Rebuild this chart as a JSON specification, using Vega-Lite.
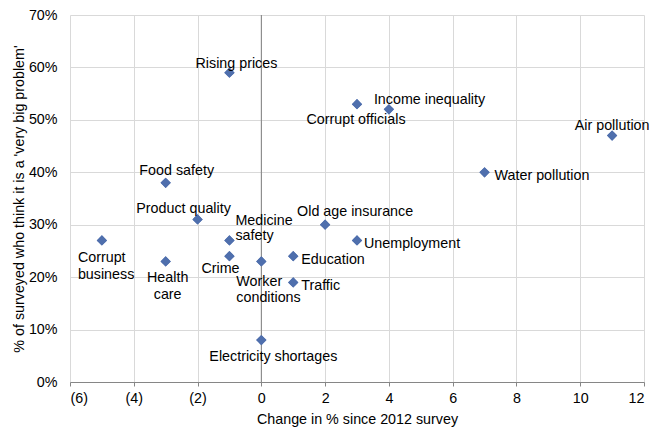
{
  "$schema": "https://vega.github.io/schema/vega-lite/v6.json",
  "width": 574,
  "height": 367,
  "autosize": {"type": "none"},
  "padding": {"left": 70, "top": 15, "right": 6, "bottom": 45},
  "config": {
    "view": {"stroke": null},
    "font": "Liberation Sans",
    "text": {"font": "Liberation Sans", "fontSize": 14.3, "color": "#000000", "baseline": "alphabetic"}
  },
  "data": {
    "values": [
      {"name": "Rising prices", "change": -1, "pct": 59},
      {"name": "Income inequality", "change": 4, "pct": 52},
      {"name": "Corrupt officials", "change": 3, "pct": 53},
      {"name": "Air pollution", "change": 11, "pct": 47},
      {"name": "Water pollution", "change": 7, "pct": 40},
      {"name": "Food safety", "change": -3, "pct": 38},
      {"name": "Product quality", "change": -2, "pct": 31},
      {"name": "Medicine safety", "change": -1, "pct": 27},
      {"name": "Corrupt business", "change": -5, "pct": 27},
      {"name": "Health care", "change": -3, "pct": 23},
      {"name": "Crime", "change": -1, "pct": 24},
      {"name": "Worker conditions", "change": 0, "pct": 23},
      {"name": "Electricity shortages", "change": 0, "pct": 8},
      {"name": "Education", "change": 1, "pct": 24},
      {"name": "Traffic", "change": 1, "pct": 19},
      {"name": "Old age insurance", "change": 2, "pct": 30},
      {"name": "Unemployment", "change": 3, "pct": 27}
    ]
  },
  "layer": [
    {
      "mark": {"type": "point", "shape": "diamond", "filled": true, "size": 105, "color": "#4F6FAD", "opacity": 1},
      "encoding": {
        "x": {
          "field": "change", "type": "quantitative",
          "scale": {"domain": [-6, 12], "nice": false, "zero": false},
          "axis": {
            "values": [-6, -4, -2, 0, 2, 4, 6, 8, 10, 12],
            "labelExpr": "datum.value < 0 ? '(' + abs(datum.value) + ')' : '' + datum.value",
            "title": "Change in % since 2012 survey",
            "grid": true, "gridColor": "#D9D9D9", "gridWidth": 1,
            "domainColor": "#868686", "tickColor": "#868686", "tickSize": 4,
            "labelFontSize": 14.3, "labelColor": "#000000", "labelPadding": 5,
            "labelFont": "Liberation Sans",
            "titleFont": "Liberation Sans", "titleFontSize": 14.3, "titleFontWeight": "normal", "titleColor": "#000000", "titlePadding": 7
          }
        },
        "y": {
          "field": "pct", "type": "quantitative",
          "scale": {"domain": [0, 70], "nice": false},
          "axis": {
            "values": [0, 10, 20, 30, 40, 50, 60, 70],
            "labelExpr": "datum.value + '%'",
            "title": "% of surveyed who think it is a 'very big problem'",
            "grid": true, "gridColor": "#D9D9D9", "gridWidth": 1,
            "domain": false, "ticks": false,
            "labelFontSize": 14.3, "labelColor": "#000000", "labelPadding": 13,
            "labelFont": "Liberation Sans",
            "titleFont": "Liberation Sans", "titleFontSize": 14.3, "titleFontWeight": "normal", "titleColor": "#000000", "titlePadding": 2
          }
        }
      }
    },
    {
      "data": {"values": [{}]},
      "mark": {"type": "rule", "color": "#7F7F7F", "strokeWidth": 1},
      "encoding": {"x": {"datum": 0, "type": "quantitative"}}
    },
    {
      "mark": {"type": "point", "shape": "diamond", "filled": true, "size": 105, "color": "#4F6FAD", "opacity": 1},
      "encoding": {
        "x": {"field": "change", "type": "quantitative"},
        "y": {"field": "pct", "type": "quantitative"}
      }
    },
    {"transform": [{"filter": "datum.name === 'Rising prices'"}], "mark": {"type": "text", "align": "center", "dx": 7, "dy": -5},
     "encoding": {"x": {"field": "change", "type": "quantitative"}, "y": {"field": "pct", "type": "quantitative"}, "text": {"field": "name"}}},
    {"transform": [{"filter": "datum.name === 'Income inequality'"}], "mark": {"type": "text", "align": "left", "dx": -15, "dy": -5},
     "encoding": {"x": {"field": "change", "type": "quantitative"}, "y": {"field": "pct", "type": "quantitative"}, "text": {"field": "name"}}},
    {"transform": [{"filter": "datum.name === 'Corrupt officials'"}], "mark": {"type": "text", "align": "center", "dx": -1, "dy": 20},
     "encoding": {"x": {"field": "change", "type": "quantitative"}, "y": {"field": "pct", "type": "quantitative"}, "text": {"field": "name"}}},
    {"transform": [{"filter": "datum.name === 'Air pollution'"}], "mark": {"type": "text", "align": "center", "dx": 0, "dy": -6},
     "encoding": {"x": {"field": "change", "type": "quantitative"}, "y": {"field": "pct", "type": "quantitative"}, "text": {"field": "name"}}},
    {"transform": [{"filter": "datum.name === 'Water pollution'"}], "mark": {"type": "text", "align": "left", "dx": 10, "dy": 8},
     "encoding": {"x": {"field": "change", "type": "quantitative"}, "y": {"field": "pct", "type": "quantitative"}, "text": {"field": "name"}}},
    {"transform": [{"filter": "datum.name === 'Food safety'"}], "mark": {"type": "text", "align": "center", "dx": 11, "dy": -8},
     "encoding": {"x": {"field": "change", "type": "quantitative"}, "y": {"field": "pct", "type": "quantitative"}, "text": {"field": "name"}}},
    {"transform": [{"filter": "datum.name === 'Product quality'"}], "mark": {"type": "text", "align": "center", "dx": -14, "dy": -6},
     "encoding": {"x": {"field": "change", "type": "quantitative"}, "y": {"field": "pct", "type": "quantitative"}, "text": {"field": "name"}}},
    {"transform": [{"filter": "datum.name === 'Medicine safety'"}], "mark": {"type": "text", "align": "left", "dx": 6, "dy": -15, "lineBreak": " ", "lineHeight": 15},
     "encoding": {"x": {"field": "change", "type": "quantitative"}, "y": {"field": "pct", "type": "quantitative"}, "text": {"field": "name"}}},
    {"transform": [{"filter": "datum.name === 'Corrupt business'"}], "mark": {"type": "text", "align": "left", "dx": -24, "dy": 22, "lineBreak": " ", "lineHeight": 17},
     "encoding": {"x": {"field": "change", "type": "quantitative"}, "y": {"field": "pct", "type": "quantitative"}, "text": {"field": "name"}}},
    {"transform": [{"filter": "datum.name === 'Health care'"}], "mark": {"type": "text", "align": "center", "dx": 2, "dy": 21, "lineBreak": " ", "lineHeight": 17},
     "encoding": {"x": {"field": "change", "type": "quantitative"}, "y": {"field": "pct", "type": "quantitative"}, "text": {"field": "name"}}},
    {"transform": [{"filter": "datum.name === 'Crime'"}], "mark": {"type": "text", "align": "center", "dx": -9, "dy": 17},
     "encoding": {"x": {"field": "change", "type": "quantitative"}, "y": {"field": "pct", "type": "quantitative"}, "text": {"field": "name"}}},
    {"transform": [{"filter": "datum.name === 'Worker conditions'"}], "mark": {"type": "text", "align": "left", "dx": -25, "dy": 25, "lineBreak": " ", "lineHeight": 16},
     "encoding": {"x": {"field": "change", "type": "quantitative"}, "y": {"field": "pct", "type": "quantitative"}, "text": {"field": "name"}}},
    {"transform": [{"filter": "datum.name === 'Electricity shortages'"}], "mark": {"type": "text", "align": "center", "dx": 12, "dy": 21},
     "encoding": {"x": {"field": "change", "type": "quantitative"}, "y": {"field": "pct", "type": "quantitative"}, "text": {"field": "name"}}},
    {"transform": [{"filter": "datum.name === 'Education'"}], "mark": {"type": "text", "align": "left", "dx": 8, "dy": 8},
     "encoding": {"x": {"field": "change", "type": "quantitative"}, "y": {"field": "pct", "type": "quantitative"}, "text": {"field": "name"}}},
    {"transform": [{"filter": "datum.name === 'Traffic'"}], "mark": {"type": "text", "align": "left", "dx": 8, "dy": 8},
     "encoding": {"x": {"field": "change", "type": "quantitative"}, "y": {"field": "pct", "type": "quantitative"}, "text": {"field": "name"}}},
    {"transform": [{"filter": "datum.name === 'Old age insurance'"}], "mark": {"type": "text", "align": "center", "dx": 30, "dy": -9},
     "encoding": {"x": {"field": "change", "type": "quantitative"}, "y": {"field": "pct", "type": "quantitative"}, "text": {"field": "name"}}},
    {"transform": [{"filter": "datum.name === 'Unemployment'"}], "mark": {"type": "text", "align": "left", "dx": 7, "dy": 8},
     "encoding": {"x": {"field": "change", "type": "quantitative"}, "y": {"field": "pct", "type": "quantitative"}, "text": {"field": "name"}}}
  ]
}
